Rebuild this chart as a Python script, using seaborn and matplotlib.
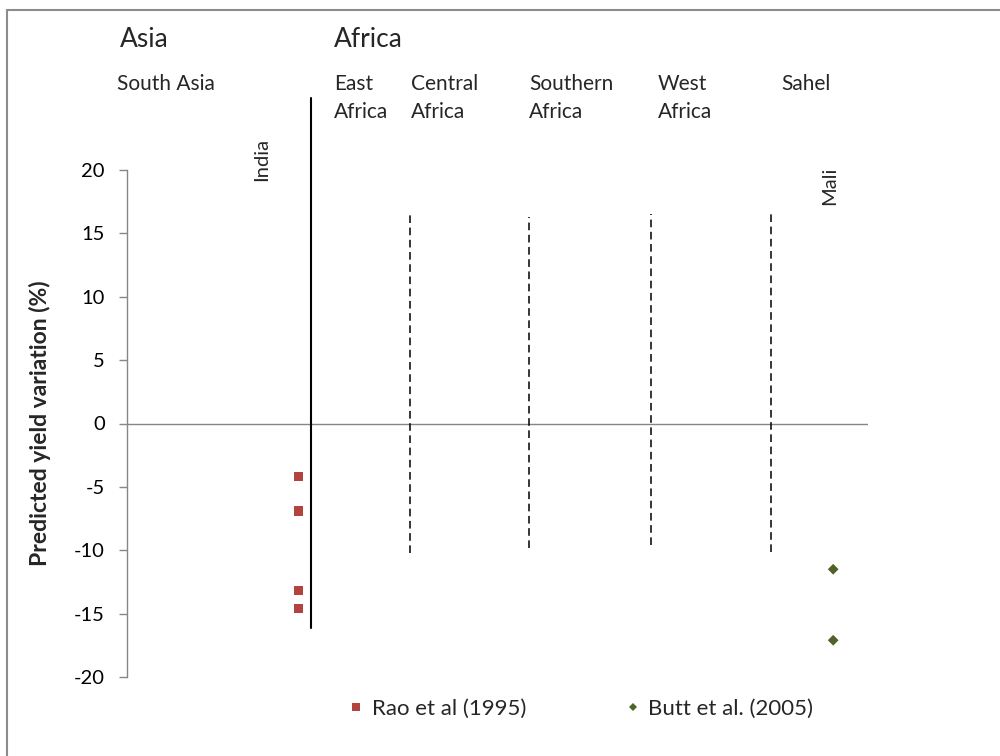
import pandas as pd
import seaborn as sns
import matplotlib.pyplot as plt
from matplotlib.lines import Line2D

sns.set_theme(style="ticks")
plt.rcParams['font.family'] = ['Lato', 'DejaVu Sans']
plt.rcParams['axes.unicode_minus'] = False

# data
rao_country = ["India", "India", "India", "India"]
rao_values = [-4.2, -6.9, -13.2, -14.6]
butt_country = ["Mali", "Mali"]
butt_values = [-11.5, -17.1]

# horizontal slot of each country / region divider on a 0..10 scale
country_pos = {"India": 2.31, "Mali": 9.53}
divider_solid = 2.48
divider_dashed = [3.82, 5.43, 7.07, 8.69]
dashed_top = [16.6, 16.3, 16.5, 16.6]
dashed_bottom = [-10.2, -9.8, -9.6, -10.1]

regions = ["South Asia", "East\nAfrica", "Central\nAfrica", "Southern\nAfrica", "West\nAfrica", "Sahel"]
region_px = [117, 334, 411, 529, 658, 781]

df = pd.DataFrame({
    "country": rao_country + butt_country,
    "value": rao_values + butt_values,
    "study": ["Rao et al (1995)"] * len(rao_values) + ["Butt et al. (2005)"] * len(butt_values),
})
df["x"] = df["country"].map(country_pos)

W, H = 1000, 756
def px(x, y):
    return x / W, 1 - y / H

fig = plt.figure(figsize=(10, 7.56), dpi=100)
ax = fig.add_axes([127 / W, 1 - 677 / H, 741 / W, 507 / H])

sns.scatterplot(data=df, x="x", y="value", hue="study", style="study", size="study",
                palette={"Rao et al (1995)": "#B3433F", "Butt et al. (2005)": "#4F6228"},
                markers={"Rao et al (1995)": "s", "Butt et al. (2005)": "D"},
                sizes={"Rao et al (1995)": 45, "Butt et al. (2005)": 30},
                linewidth=0, ax=ax, legend=True, clip_on=False, zorder=5)

ax.set_xlim(0, 10)
ax.set_ylim(-20, 20)
ax.set_yticks(range(-20, 21, 5))
ax.set_xticks([])
ax.set_xlabel("")
ax.set_ylabel("Predicted yield variation (%)", fontsize=16.5, fontweight="bold")
ax.yaxis.set_label_coords(-0.103, 0.5)
for s in ["top", "right", "bottom"]:
    ax.spines[s].set_visible(False)
ax.spines["left"].set_color("#868686")
ax.spines["left"].set_linewidth(1.0)
ax.tick_params(axis="y", colors="#868686", length=6, width=1.0, labelsize=14.5, labelcolor="black", pad=10)
ax.axhline(0, color="#868686", lw=1.0, zorder=1)

ax.plot([divider_solid, divider_solid], [-16.1, 25.7], color="black", lw=1.5, clip_on=False)
for xd, t, b in zip(divider_dashed, dashed_top, dashed_bottom):
    ax.plot([xd, xd], [b, t], color="black", lw=1.1, ls=(0, (5, 3)), clip_on=False)

# headings
fig.text(*px(120, 47), "Asia", fontsize=19, va="baseline")
fig.text(*px(334, 47), "Africa", fontsize=19, va="baseline")
for name, xp in zip(regions, region_px):
    for i, line in enumerate(name.split("\n")):
        fig.text(*px(xp, 90 + 28 * i), line, fontsize=15, va="baseline")
fig.text(*px(262, 181), "India", fontsize=14.5, rotation=90, ha="center", va="bottom")
fig.text(*px(830, 205), "Mali", fontsize=14.5, rotation=90, ha="center", va="bottom")

handles, labels = ax.get_legend_handles_labels()
ax.legend(handles, labels, loc="center left", bbox_to_anchor=px(345, 709), bbox_transform=fig.transFigure,
          ncol=2, frameon=False, fontsize=16, columnspacing=4.3, handlelength=1, handletextpad=0.2,
          borderpad=0, borderaxespad=0, markerscale=0.8)

# outer chart border
fig.add_artist(Line2D([7 / W, 7 / W], [0, 1 - 10 / H], transform=fig.transFigure, color="#8C8C8C", lw=1.5))
fig.add_artist(Line2D([7 / W, 1], [1 - 10 / H, 1 - 10 / H], transform=fig.transFigure, color="#8C8C8C", lw=1.5))

fig.savefig("out.png", dpi=100)
